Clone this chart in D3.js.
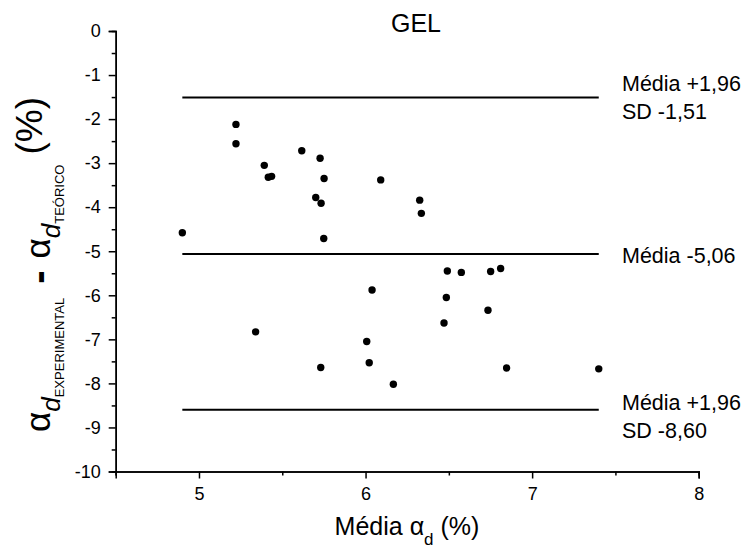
<!DOCTYPE html>
<html>
<head>
<meta charset="utf-8">
<script src="https://cdn.jsdelivr.net/npm/d3@7"></script>
<style>
  html, body { margin: 0; padding: 0; background: #fff; }
  svg { display: block; font-family: "Liberation Sans", Arial, sans-serif; }
</style>
</head>
<body>
<svg id="chart" width="745" height="551"></svg>
<script>
// Bland-Altman data: mean of the two methods (x) vs. experimental - theoretical difference (y)
const meanAlpha = [
  4.90, 5.222, 5.222, 5.392, 5.416, 5.436, 5.617, 5.727, 5.751, 5.701,
  5.733, 5.749, 6.091, 6.325, 6.335, 6.491, 6.575, 6.751, 6.811, 6.039,
  6.485, 6.735, 6.471, 6.007, 6.022, 6.167, 6.847, 7.40, 5.340, 5.731
];
const diffAlpha = [
  -4.58, -2.12, -2.56, -3.05, -3.32, -3.30, -2.72, -2.89, -3.35, -3.78,
  -3.91, -4.71, -3.38, -3.84, -4.14, -5.45, -5.48, -5.46, -5.39, -5.88,
  -6.05, -6.34, -6.63, -7.05, -7.53, -8.02, -7.65, -7.67, -6.83, -7.64
];

// Mean difference and limits of agreement
const limitValues = [-1.51, -5.06, -8.60];
const limitLabels = [["Média +1,96", "SD -1,51"], ["Média -5,06"], ["Média +1,96", "SD -8,60"]];

const xMajorTicks = [5, 6, 7, 8];
const xMinorTicks = [4.5, 5.5, 6.5, 7.5];
const yMajorTicks = [0, -1, -2, -3, -4, -5, -6, -7, -8, -9, -10];
const yMinorTicks = [-0.5, -1.5, -2.5, -3.5, -4.5, -5.5, -6.5, -7.5, -8.5, -9.5];

const svg = d3.select("#chart");

const x = d3.scaleLinear().domain([4.5, 8]).range([115.7, 698.7]);
const y = d3.scaleLinear().domain([0, -10]).range([31, 471.5]);

// Axes: minor ticks first (no labels), then labelled major ticks
const axisFont = 18;

const yMinor = svg.append("g").attr("transform", `translate(${x(4.5)},0)`)
  .call(d3.axisLeft(y).tickValues(yMinorTicks).tickSize(4).tickFormat(""));
const yMajor = svg.append("g").attr("transform", `translate(${x(4.5)},0)`)
  .call(d3.axisLeft(y).tickValues(yMajorTicks).tickSize(7).tickPadding(8)
    .tickFormat(d3.format("d")));

const xMinor = svg.append("g").attr("transform", `translate(0,${y(-10)})`)
  .call(d3.axisBottom(x).tickValues(xMinorTicks).tickSize(4).tickFormat(""));
const xMajor = svg.append("g").attr("transform", `translate(0,${y(-10)})`)
  .call(d3.axisBottom(x).tickValues(xMajorTicks).tickSize(7).tickPadding(9)
    .tickFormat(d3.format("d")));

[yMinor, yMajor, xMinor, xMajor].forEach(g => {
  g.selectAll("path.domain").attr("stroke", "#000").attr("stroke-width", 1.5);
  g.selectAll(".tick line").attr("stroke", "#000").attr("stroke-width", 1.5);
  g.selectAll(".tick text")
    .attr("font-size", axisFont)
    .attr("font-family", "Liberation Sans, Arial, sans-serif")
    .attr("fill", "#000");
});
// minus sign shown as plain hyphen
yMajor.selectAll(".tick text").text(d => String(d).replace("−", "-"));

// Horizontal reference lines spanning the range of the data
const [xLo, xHi] = d3.extent(meanAlpha);
svg.append("g").selectAll("line").data(limitValues).join("line")
  .attr("x1", x(xLo)).attr("x2", x(xHi))
  .attr("y1", d => y(d)).attr("y2", d => y(d))
  .attr("stroke", "#000").attr("stroke-width", 2);

// Labels to the right of each line
const labelFirstOffset = [-6.5, 9, 0.5];
const labelLineGap = 27.5;
limitValues.forEach((v, i) => {
  const t = svg.append("text")
    .attr("x", 622)
    .attr("y", y(v) + labelFirstOffset[i])
    .attr("font-size", 21.5)
    .attr("fill", "#000");
  limitLabels[i].forEach((line, j) => {
    t.append("tspan").attr("x", 622).attr("dy", j === 0 ? 0 : labelLineGap).text(line);
  });
});

// Points
svg.append("g").selectAll("circle")
  .data(meanAlpha.map((m, i) => [m, diffAlpha[i]]))
  .join("circle")
  .attr("cx", d => x(d[0]))
  .attr("cy", d => y(d[1]))
  .attr("r", 3.7)
  .attr("fill", "#000");

// Title
svg.append("text")
  .attr("x", 416).attr("y", 31.5)
  .attr("text-anchor", "middle")
  .attr("font-size", 25)
  .attr("fill", "#000")
  .text("GEL");

// X axis title: Média α_d (%)
const xt = svg.append("text")
  .attr("x", 407).attr("y", 535)
  .attr("text-anchor", "middle")
  .attr("font-size", 25)
  .attr("fill", "#000");
xt.append("tspan").text("Média α");
xt.append("tspan").attr("font-size", 17).attr("dy", 10).text("d");
xt.append("tspan").attr("dy", -10).text(" (%)");

// Y axis title: α_d(EXPERIMENTAL) - α_d(TEÓRICO) (%), rotated
const yt = svg.append("text")
  .attr("transform", "rotate(-90)")
  .attr("x", -432)
  .attr("fill", "#000");
const ySegments = [
  { t: "α", size: 35, base: 50 },
  { t: "d", size: 26, base: 60, italic: true },
  { t: "EXPERIMENTAL", size: 13, base: 64 },
  { t: "-", size: 40, base: 52, bold: true, gap: 14 },
  { t: "α", size: 35, base: 50, gap: 12 },
  { t: "d", size: 26, base: 60, italic: true },
  { t: "TEÓRICO", size: 13, base: 64 },
  { t: "(%)", size: 37, base: 42, gap: 10 }
];
ySegments.forEach(s => {
  yt.append("tspan")
    .attr("y", s.base)
    .attr("dx", s.gap || 0)
    .attr("font-size", s.size)
    .attr("font-style", s.italic ? "italic" : "normal")
    .attr("font-weight", s.bold ? "bold" : "normal")
    .text(s.t);
});
</script>
</body>
</html>
